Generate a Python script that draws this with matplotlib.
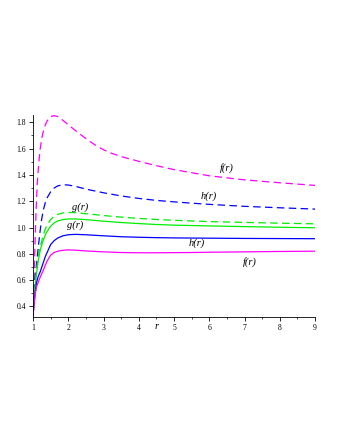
import matplotlib
matplotlib.use("Agg")
import matplotlib.pyplot as plt
from matplotlib.ticker import MultipleLocator

# ---- data ----
r_fd = [1.0, 1.03, 1.06, 1.09, 1.12, 1.16, 1.2, 1.25, 1.3, 1.35, 1.4, 1.5, 1.6, 1.7, 1.8, 1.9, 2.0, 2.2,
        2.4, 2.6, 2.8, 3.0, 3.2, 3.5, 4.0, 4.5, 5.0, 6.0, 7.0, 8.0, 9.0]
f_dash = [0.33, 0.6, 0.9, 1.15, 1.33, 1.48, 1.59, 1.68, 1.74, 1.78, 1.81, 1.843, 1.85, 1.843, 1.825, 1.803,
          1.78, 1.738, 1.696, 1.656, 1.621, 1.591, 1.567, 1.539, 1.503, 1.47, 1.44, 1.393, 1.362, 1.34, 1.32]

r_c = [1.0, 1.03, 1.06, 1.1, 1.15, 1.2, 1.25, 1.3, 1.35, 1.4, 1.5, 1.6, 1.7, 1.85, 2.0, 2.2, 2.5,
       3.0, 3.5, 4.0, 4.5, 5.0, 5.5, 6.0, 7.0, 8.0, 9.0]
h_dash = [0.33, 0.5, 0.62, 0.72, 0.85, 0.97, 1.07, 1.14, 1.19, 1.225, 1.272, 1.30, 1.316, 1.325, 1.323,
          1.313, 1.292, 1.264, 1.24, 1.221, 1.206, 1.195, 1.185, 1.176, 1.161, 1.15, 1.14]
g_dash = [0.33, 0.45, 0.57, 0.68, 0.78, 0.85, 0.90, 0.95, 0.99, 1.02, 1.06, 1.085, 1.10, 1.111, 1.115,
          1.113, 1.105, 1.091, 1.079, 1.069, 1.061, 1.055, 1.05, 1.045, 1.039, 1.033, 1.028]
g_sol = [0.33, 0.44, 0.55, 0.65, 0.75, 0.82, 0.87, 0.91, 0.945, 0.97, 1.01, 1.035, 1.05, 1.06, 1.065,
         1.065, 1.06, 1.048, 1.038, 1.03, 1.023, 1.018, 1.015, 1.012, 1.007, 1.002, 0.998]
h_sol = [0.33, 0.42, 0.5, 0.58, 0.63, 0.66, 0.70, 0.74, 0.78, 0.81, 0.87, 0.90, 0.92, 0.937, 0.945,
         0.948, 0.945, 0.937, 0.93, 0.926, 0.923, 0.921, 0.92, 0.919, 0.917, 0.916, 0.915]
f_sol = [0.33, 0.41, 0.49, 0.55, 0.585, 0.62, 0.65, 0.68, 0.715, 0.745, 0.79, 0.81, 0.82, 0.827, 0.83,
         0.828, 0.822, 0.815, 0.81, 0.808, 0.808, 0.809, 0.81, 0.812, 0.815, 0.818, 0.82]

x_ticks = [1, 2, 3, 4, 5, 6, 7, 8, 9]
y_ticks = [0.4, 0.6, 0.8, 1.0, 1.2, 1.4, 1.6, 1.8]

labels = ["f(r)", "h(r)", "g(r)", "g(r)", "h(r)", "f(r)"]
label_x = [6.5, 5.99, 2.33, 2.19, 5.64, 7.16]
label_y = [1.455, 1.236, 1.153, 1.02, 0.882, 0.738]

MAG, BLU, GRN = "#ff00ff", "#0000ff", "#00ee00"

fig = plt.figure(figsize=(3.4, 4.4), dpi=100)
ax = fig.add_axes([33/340, 1 - 317/440, 282/340, 202/440])

lw = 0.9
dash = (6, 3.5)
ax.plot(r_fd, f_dash, color=MAG, lw=lw, dashes=dash)
ax.plot(r_c, h_dash, color=BLU, lw=lw, dashes=dash)
ax.plot(r_c, g_dash, color=GRN, lw=lw, dashes=dash)
ax.plot(r_c, g_sol, color=GRN, lw=lw)
ax.plot(r_c, h_sol, color=BLU, lw=lw)
ax.plot(r_c, f_sol, color=MAG, lw=lw)

for t, x, y in zip(labels, label_x, label_y):
    ax.text(x, y, t, fontsize=7.5, family="Liberation Serif", style="italic",
            ha="center", va="center")

ax.set_xlim(1, 9)
ax.set_ylim(0.32, 1.855)
ax.set_xticks(x_ticks)
ax.set_yticks(y_ticks)
ax.set_xticklabels([str(v) for v in x_ticks])
ax.set_yticklabels([f"{v:.1f}" for v in y_ticks])
ax.xaxis.set_minor_locator(MultipleLocator(0.5))
ax.yaxis.set_minor_locator(MultipleLocator(0.1))
ax.tick_params(which="major", length=3, width=0.6, labelsize=5.5, pad=2)
ax.tick_params(which="minor", length=1.5, width=0.5)
for lab in ax.get_xticklabels() + ax.get_yticklabels():
    lab.set_family("Liberation Serif")

ax.spines["top"].set_visible(False)
ax.spines["right"].set_visible(False)
ax.spines["left"].set_linewidth(0.6)
ax.spines["bottom"].set_linewidth(0.6)

ax.text(4.51, -0.045, "r", transform=ax.get_xaxis_transform(), fontsize=7.5,
        family="Liberation Serif", style="italic", ha="center", va="center")

fig.savefig("out.png", dpi=100, facecolor="white")
